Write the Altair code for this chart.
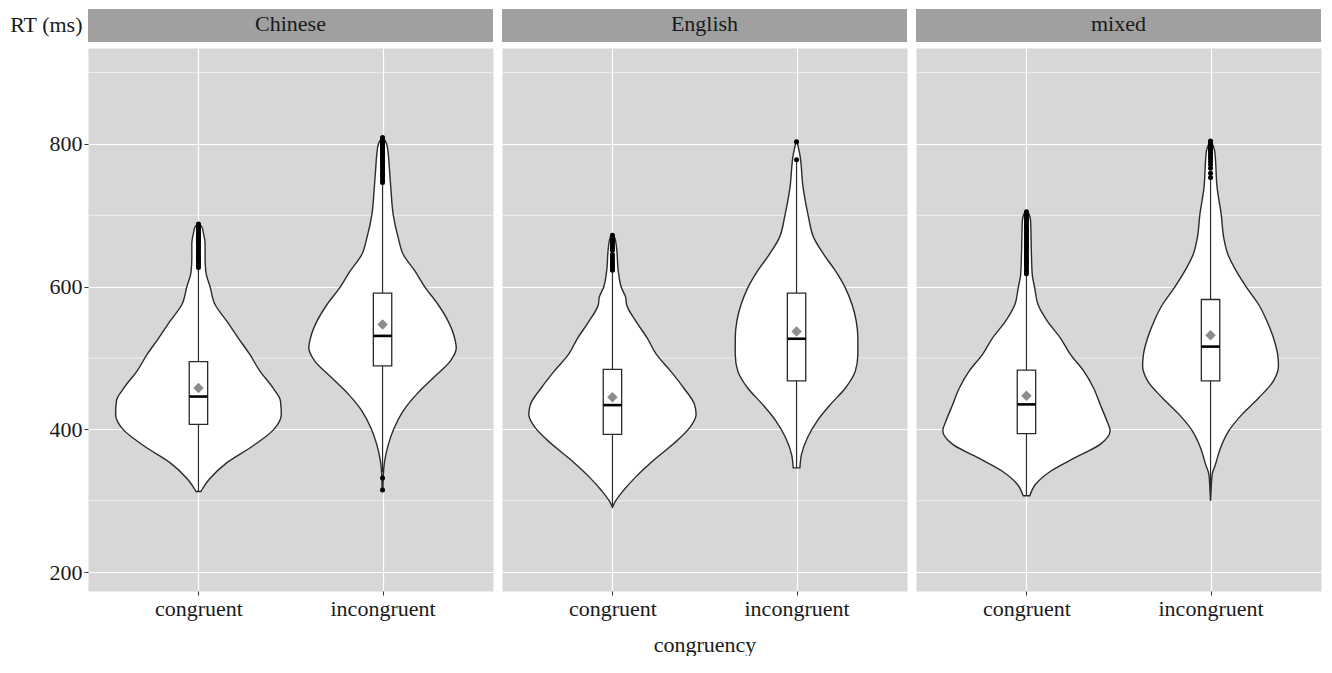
import altair as alt
import pandas as pd

LANGS = ["Chinese", "English", "mixed"]
CONDS = ["congruent", "incongruent"]
Y_TICKS = [200, 400, 600, 800]
Y_MINOR = [300, 500, 700, 900]
Y_TITLE = "RT (ms)"
X_TITLE = "congruency"

# ---- violin outlines: RT value and relative density (width) ----
CH_CON_RT = [313, 315, 330, 353, 377, 400, 421, 440, 458, 482, 505, 528, 552, 575, 600, 620, 640, 660, 675, 684, 688]
CH_CON_D = [0.03, 0.04, 0.13, 0.34, 0.66, 0.91, 1.00, 0.99, 0.90, 0.74, 0.62, 0.48, 0.34, 0.20, 0.14, 0.09, 0.08, 0.08, 0.06, 0.04, 0.0]

CH_INC_RT = [315, 337, 355, 379, 402, 426, 449, 472, 496, 514, 528, 552, 575, 598, 622, 645, 668, 700, 738, 770, 785, 800, 809]
CH_INC_D = [0.005, 0.01, 0.025, 0.07, 0.14, 0.25, 0.41, 0.61, 0.82, 0.89, 0.87, 0.79, 0.67, 0.52, 0.39, 0.25, 0.19, 0.13, 0.10, 0.08, 0.07, 0.05, 0.0]

EN_CON_RT = [291, 300, 314, 332, 356, 379, 402, 421, 435, 458, 482, 505, 528, 552, 575, 585, 598, 622, 654, 668, 673]
EN_CON_D = [0.0, 0.04, 0.13, 0.27, 0.49, 0.73, 0.93, 1.01, 0.99, 0.86, 0.70, 0.53, 0.42, 0.28, 0.17, 0.16, 0.11, 0.07, 0.05, 0.03, 0.0]

EN_INC_RT = [346, 365, 388, 412, 435, 458, 482, 505, 528, 552, 575, 598, 622, 645, 668, 700, 738, 785, 806]
EN_INC_D = [0.04, 0.06, 0.13, 0.25, 0.41, 0.59, 0.71, 0.74, 0.74, 0.72, 0.67, 0.59, 0.47, 0.33, 0.21, 0.14, 0.08, 0.04, 0.0]

MX_CON_RT = [307, 323, 342, 360, 379, 398, 412, 435, 458, 482, 505, 528, 552, 575, 598, 617, 645, 692, 702, 706]
MX_CON_D = [0.04, 0.11, 0.30, 0.58, 0.89, 1.01, 0.97, 0.89, 0.81, 0.69, 0.53, 0.41, 0.25, 0.14, 0.10, 0.07, 0.06, 0.05, 0.03, 0.0]

MX_INC_RT = [300, 318, 337, 351, 374, 398, 421, 444, 468, 489, 505, 528, 552, 575, 598, 622, 645, 668, 700, 738, 790, 805]
MX_INC_D = [0.0, 0.008, 0.02, 0.06, 0.12, 0.22, 0.38, 0.58, 0.76, 0.82, 0.81, 0.76, 0.68, 0.58, 0.44, 0.31, 0.21, 0.16, 0.13, 0.08, 0.05, 0.0]

# ---- box statistics (order: Chinese con, Chinese inc, English con, English inc, mixed con, mixed inc) ----
BOX_LO = [313, 340, 291, 346, 307, 300]
BOX_Q1 = [407, 489, 393, 468, 394, 468]
BOX_MED = [446, 531, 434, 527, 435, 516]
BOX_Q3 = [495, 591, 484, 591, 483, 582]
BOX_HI = [625, 744, 620, 776, 615, 751]
BOX_MEAN = [458, 547, 445, 537, 447, 532]

# ---- outliers ----
CH_CON_OUT = [627, 630, 632, 635, 637, 640, 642, 645, 647, 650, 652, 655, 657, 659, 662, 664, 666, 668, 670, 672, 674, 676, 678, 680, 682, 684, 686, 688]
CH_INC_OUT = [315, 332, 746, 749, 753, 756, 758, 761, 764, 767, 769, 772, 775, 777, 780, 782, 785, 787, 789, 791, 793, 795, 797, 799, 801, 803, 805, 807, 809]
EN_CON_OUT = [623, 626, 628, 631, 633, 636, 639, 642, 645, 651, 654, 657, 660, 663, 665, 668, 670, 672]
EN_INC_OUT = [778, 803]
MX_CON_OUT = [618, 621, 624, 628, 631, 634, 637, 640, 643, 646, 649, 652, 655, 658, 661, 664, 667, 670, 673, 676, 679, 682, 685, 688, 691, 694, 697, 700, 703, 705]
MX_INC_OUT = [753, 759, 766, 771, 775, 779, 782, 785, 788, 790, 792, 794, 796, 798, 800, 802, 804]

VIOLINS = [(CH_CON_RT, CH_CON_D), (CH_INC_RT, CH_INC_D),
           (EN_CON_RT, EN_CON_D), (EN_INC_RT, EN_INC_D),
           (MX_CON_RT, MX_CON_D), (MX_INC_RT, MX_INC_D)]
OUTLIERS = [CH_CON_OUT, CH_INC_OUT, EN_CON_OUT, EN_INC_OUT, MX_CON_OUT, MX_INC_OUT]

VIOLIN_HALF = 0.45
BOX_HALF = 0.05

vrows, brows, orows = [], [], []
k = 0
for lang in LANGS:
    for ci, cond in enumerate(CONDS):
        idx = ci + 1
        rts, ds = VIOLINS[k]
        for r, d in zip(rts, ds):
            vrows.append({"lang": lang, "cond": cond, "rt": r,
                          "left": idx - VIOLIN_HALF * d, "right": idx + VIOLIN_HALF * d})
        brows.append({"lang": lang, "cond": cond, "idx": idx,
                      "bl": idx - BOX_HALF, "br": idx + BOX_HALF,
                      "lo": BOX_LO[k], "q1": BOX_Q1[k], "med": BOX_MED[k],
                      "q3": BOX_Q3[k], "hi": BOX_HI[k], "mean": BOX_MEAN[k]})
        for o in OUTLIERS[k]:
            orows.append({"lang": lang, "cond": cond, "idx": idx, "rt": o})
        k += 1

vdf = pd.DataFrame(vrows)
bdf = pd.DataFrame(brows)
odf = pd.DataFrame(orows)
minor_df = pd.DataFrame({"rt": Y_MINOR})

W, H = 405, 543
PX_PER_UNIT = 0.7135
Y_TOP = 934.5
FONT = "Liberation Serif"
xs = alt.Scale(domain=[0.4, 2.6], nice=False, zero=False)
ys = alt.Scale(domain=[Y_TOP - H / PX_PER_UNIT, Y_TOP], nice=False, zero=False)
label_expr = f"datum.value == 1 ? '{CONDS[0]}' : '{CONDS[1]}'"


def panel(i, lang):
    first = i == 0
    xaxis = alt.Axis(values=[1, 2], labelExpr=label_expr, grid=True,
                     title=X_TITLE if i == 1 else "", titlePadding=15,
                     labelPadding=3)
    if first:
        yaxis = alt.Axis(values=Y_TICKS, grid=True, title=Y_TITLE, titleAngle=0,
                         titleAlign="right", titleBaseline="alphabetic",
                         titleX=-6, titleY=-17, labelPadding=2)
    else:
        yaxis = alt.Axis(values=Y_TICKS, grid=True, title="", labels=False, ticks=False)

    def X(f):
        return alt.X(f, scale=xs, axis=xaxis)

    def Y(f):
        return alt.Y(f, scale=ys, axis=yaxis)

    v = vdf[vdf.lang == lang]
    b = bdf[bdf.lang == lang]
    o = odf[odf.lang == lang]

    minor = alt.Chart(minor_df).mark_rule(color="white", strokeWidth=0.6).encode(y=Y("rt:Q"))
    violin = alt.Chart(v).mark_area(orient="horizontal", fill="white", stroke="#2b2b2b",
                                    strokeWidth=1.4, interpolate="monotone").encode(
        y=Y("rt:Q"), x=X("left:Q"), x2="right:Q", detail="cond:N")
    whisk = alt.Chart(b).mark_rule(color="#2b2b2b", strokeWidth=1.2).encode(
        x=X("idx:Q"), y=Y("lo:Q"), y2="hi:Q")
    box = alt.Chart(b).mark_rect(fill="white", stroke="#2b2b2b", strokeWidth=1.3).encode(
        x=X("bl:Q"), x2="br:Q", y=Y("q1:Q"), y2="q3:Q")
    med = alt.Chart(b).mark_rule(color="black", strokeWidth=2.6).encode(
        x=X("bl:Q"), x2="br:Q", y=Y("med:Q"))
    outl = alt.Chart(o).mark_circle(color="black", size=25, opacity=1).encode(
        x=X("idx:Q"), y=Y("rt:Q"))
    mean = alt.Chart(b).mark_point(shape="diamond", filled=True, color="#8c8c8c",
                                   size=110, opacity=1).encode(x=X("idx:Q"), y=Y("mean:Q"))
    sdf = pd.DataFrame({"lang": [lang]})
    strip = alt.Chart(sdf).mark_rect(color="#a0a0a0").encode(
        x=alt.value(0), x2=alt.value(W), y=alt.value(-39), y2=alt.value(-6))
    stext = alt.Chart(sdf).mark_text(font=FONT, fontSize=22, color="#1a1a1a",
                                     baseline="alphabetic", align="center").encode(
        x=alt.value(W / 2), y=alt.value(-17), text="lang:N")

    return alt.layer(minor, violin, whisk, box, med, outl, mean, strip, stext).properties(
        width=W, height=H)


chart = alt.hconcat(*[panel(i, l) for i, l in enumerate(LANGS)], spacing=7).properties(
    padding=0
).configure(padding=0).configure_view(fill="#d7d7d7", stroke="transparent").configure_axis(
    labelFont=FONT, titleFont=FONT, labelFontSize=22, titleFontSize=22,
    labelColor="#1a1a1a", titleColor="#1a1a1a", titleFontWeight="normal",
    domain=False, tickColor="#333333", tickSize=4, gridColor="white", gridWidth=1.2
)

chart.save("out.html", embed_options={"renderer": "svg", "actions": False})
